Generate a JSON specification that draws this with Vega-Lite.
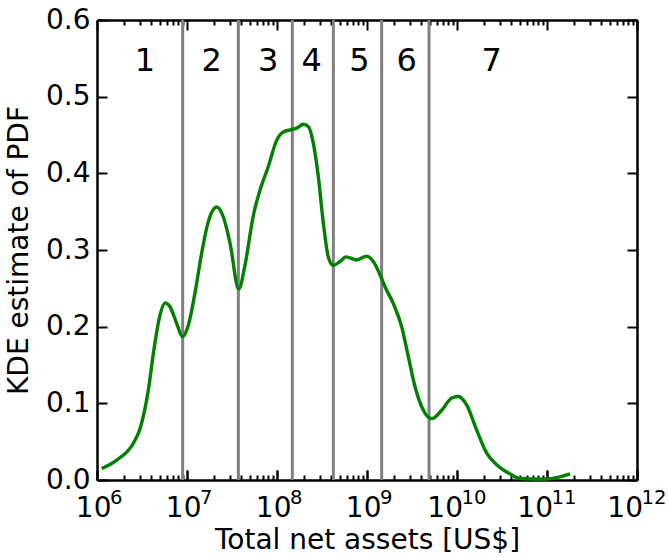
{
  "$schema": "https://vega.github.io/schema/vega-lite/v6.json",
  "width": 540,
  "height": 460,
  "autosize": "none",
  "padding": {"left": 97, "top": 20, "right": 31, "bottom": 77},
  "config": {
    "font": "DejaVu Sans",
    "view": {"stroke": null},
    "axis": {"zindex": 1, "grid": false, "labelFlush": false, "labelOverlap": false, "domainColor": "black", "domainWidth": 2.5, "tickColor": "black", "tickWidth": 2, "labelColor": "black", "titleColor": "black", "labelFont": "DejaVu Sans", "titleFont": "DejaVu Sans", "titleFontWeight": "normal"}
  },
  "datasets": {
    "curve": [
      {"assets": 1.127e6, "pdf": 0.015},
      {"assets": 1.656e6, "pdf": 0.026},
      {"assets": 2.535e6, "pdf": 0.048},
      {"assets": 3.006e6, "pdf": 0.067},
      {"assets": 3.750e6, "pdf": 0.120},
      {"assets": 4.227e6, "pdf": 0.165},
      {"assets": 5.012e6, "pdf": 0.215},
      {"assets": 5.702e6, "pdf": 0.231},
      {"assets": 6.471e6, "pdf": 0.226},
      {"assets": 7.691e6, "pdf": 0.204},
      {"assets": 8.872e6, "pdf": 0.187},
      {"assets": 1.035e7, "pdf": 0.202},
      {"assets": 1.227e7, "pdf": 0.244},
      {"assets": 1.455e7, "pdf": 0.296},
      {"assets": 1.726e7, "pdf": 0.337},
      {"assets": 2.138e7, "pdf": 0.356},
      {"assets": 2.535e7, "pdf": 0.343},
      {"assets": 3.006e7, "pdf": 0.309},
      {"assets": 3.758e7, "pdf": 0.249},
      {"assets": 4.406e7, "pdf": 0.280},
      {"assets": 5.458e7, "pdf": 0.345},
      {"assets": 6.471e7, "pdf": 0.378},
      {"assets": 8.017e7, "pdf": 0.409},
      {"assets": 9.908e7, "pdf": 0.443},
      {"assets": 1.175e8, "pdf": 0.454},
      {"assets": 1.455e8, "pdf": 0.457},
      {"assets": 1.656e8, "pdf": 0.459},
      {"assets": 1.963e8, "pdf": 0.464},
      {"assets": 2.228e8, "pdf": 0.461},
      {"assets": 2.535e8, "pdf": 0.439},
      {"assets": 2.877e8, "pdf": 0.396},
      {"assets": 3.273e8, "pdf": 0.335},
      {"assets": 3.715e8, "pdf": 0.291},
      {"assets": 4.227e8, "pdf": 0.280},
      {"assets": 5.012e8, "pdf": 0.285},
      {"assets": 5.834e8, "pdf": 0.291},
      {"assets": 7.674e8, "pdf": 0.287},
      {"assets": 9.908e8, "pdf": 0.292},
      {"assets": 1.175e9, "pdf": 0.285},
      {"assets": 1.393e9, "pdf": 0.268},
      {"assets": 1.585e9, "pdf": 0.252},
      {"assets": 1.963e9, "pdf": 0.230},
      {"assets": 2.427e9, "pdf": 0.200},
      {"assets": 2.877e9, "pdf": 0.161},
      {"assets": 3.412e9, "pdf": 0.122},
      {"assets": 4.227e9, "pdf": 0.091},
      {"assets": 5.236e9, "pdf": 0.080},
      {"assets": 6.761e9, "pdf": 0.091},
      {"assets": 8.730e9, "pdf": 0.107},
      {"assets": 1.035e10, "pdf": 0.109},
      {"assets": 1.279e10, "pdf": 0.098},
      {"assets": 1.656e10, "pdf": 0.065},
      {"assets": 2.138e10, "pdf": 0.035},
      {"assets": 2.761e10, "pdf": 0.020},
      {"assets": 3.882e10, "pdf": 0.008},
      {"assets": 5.012e10, "pdf": 0.002},
      {"assets": 9.099e10, "pdf": 0.001},
      {"assets": 1.393e11, "pdf": 0.004},
      {"assets": 1.803e11, "pdf": 0.008}
    ],
    "bounds": [
      {"assets": 8.95e6},
      {"assets": 3.72e7},
      {"assets": 1.48e8},
      {"assets": 4.23e8},
      {"assets": 1.455e9},
      {"assets": 4.89e9}
    ],
    "labels": [
      {"assets": 3.4e6, "pdf": 0.547, "group": "1"},
      {"assets": 1.88e7, "pdf": 0.547, "group": "2"},
      {"assets": 8.0e7, "pdf": 0.547, "group": "3"},
      {"assets": 2.43e8, "pdf": 0.547, "group": "4"},
      {"assets": 8.23e8, "pdf": 0.547, "group": "5"},
      {"assets": 2.76e9, "pdf": 0.547, "group": "6"},
      {"assets": 2.43e10, "pdf": 0.547, "group": "7"}
    ]
  },
  "resolve": {"axis": {"x": "independent", "y": "independent"}},
  "layer": [
    {
      "data": {"name": "bounds"},
      "mark": {"type": "rule", "color": "#808080", "strokeWidth": 3},
      "encoding": {
        "x": {"field": "assets", "type": "quantitative",
          "scale": {"type": "log", "domain": [1e6, 1e12], "nice": false},
          "axis": {"orient": "bottom",
            "values": [1e6,2e6,3e6,4e6,5e6,6e6,7e6,8e6,9e6,1e7,2e7,3e7,4e7,5e7,6e7,7e7,8e7,9e7,1e8,2e8,3e8,4e8,5e8,6e8,7e8,8e8,9e8,1e9,2e9,3e9,4e9,5e9,6e9,7e9,8e9,9e9,1e10,2e10,3e10,4e10,5e10,6e10,7e10,8e10,9e10,1e11,2e11,3e11,4e11,5e11,6e11,7e11,8e11,9e11,1e12],
            "tickSize": {"condition": {"test": "abs(log(datum.value)/LN10 - round(log(datum.value)/LN10)) < 0.001", "value": -10}, "value": -5},
            "labelExpr": "abs(log(datum.value)/LN10 - round(log(datum.value)/LN10)) < 0.001 ? '10' : ''",
            "labelAlign": "right",
            "labelOffset": {"condition": {"test": "datum.value < 5e9", "value": 14}, "value": 5.5},
            "labelPadding": 24, "labelFontSize": 28,
            "title": "Total net assets [US$]", "titleFontSize": 28, "titlePadding": -1}
        }
      }
    },
    {
      "data": {"name": "curve"},
      "mark": {"type": "line", "color": "#008000", "strokeWidth": 3.4, "interpolate": "monotone"},
      "encoding": {
        "x": {"field": "assets", "type": "quantitative",
          "scale": {"type": "log", "domain": [1e6, 1e12], "nice": false},
          "axis": {"orient": "bottom", "domain": false, "title": null, "tickSize": -10,
            "values": [1e6, 1e7, 1e8, 1e9, 1e10, 1e11, 1e12],
            "labelExpr": "'' + round(log(datum.value)/LN10)",
            "labelAlign": "left",
            "labelOffset": {"condition": {"test": "datum.value < 5e9", "value": 12.5}, "value": 4},
            "labelPadding": 18.5, "labelFontSize": 19.6}
        },
        "y": {"field": "pdf", "type": "quantitative",
          "scale": {"domain": [0, 0.6], "nice": false, "zero": false},
          "axis": {"orient": "left", "values": [0, 0.1, 0.2, 0.3, 0.4, 0.5, 0.6], "format": ".1f", "tickSize": -10, "labelPadding": 17, "labelFontSize": 28,
            "title": "KDE estimate of PDF", "titleFontSize": 28, "titlePadding": 12}
        }
      }
    },
    {
      "data": {"name": "labels"},
      "mark": {"type": "text", "fontSize": 32, "color": "black", "baseline": "middle", "align": "center"},
      "encoding": {
        "x": {"field": "assets", "type": "quantitative",
          "scale": {"type": "log", "domain": [1e6, 1e12], "nice": false},
          "axis": {"orient": "top", "labels": false, "title": null,
            "values": [1e6,2e6,3e6,4e6,5e6,6e6,7e6,8e6,9e6,1e7,2e7,3e7,4e7,5e7,6e7,7e7,8e7,9e7,1e8,2e8,3e8,4e8,5e8,6e8,7e8,8e8,9e8,1e9,2e9,3e9,4e9,5e9,6e9,7e9,8e9,9e9,1e10,2e10,3e10,4e10,5e10,6e10,7e10,8e10,9e10,1e11,2e11,3e11,4e11,5e11,6e11,7e11,8e11,9e11,1e12],
            "tickSize": {"condition": {"test": "abs(log(datum.value)/LN10 - round(log(datum.value)/LN10)) < 0.001", "value": -10}, "value": -5}}
        },
        "y": {"field": "pdf", "type": "quantitative",
          "scale": {"domain": [0, 0.6], "nice": false, "zero": false},
          "axis": {"orient": "right", "labels": false, "title": null, "tickSize": -10, "values": [0, 0.1, 0.2, 0.3, 0.4, 0.5, 0.6]}
        },
        "text": {"field": "group", "type": "nominal"}
      }
    }
  ]
}
